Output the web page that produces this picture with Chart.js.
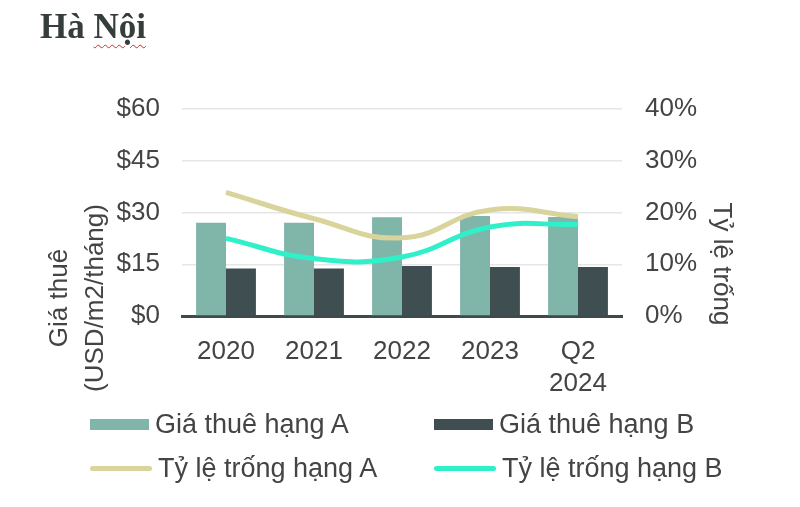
<!DOCTYPE html>
<html lang="vi">
<head>
<meta charset="utf-8">
<title>Hà Nội</title>
<script src="https://cdn.jsdelivr.net/npm/chart.js@4.4.1/dist/chart.umd.min.js"></script>
<style>
  html, body { margin: 0; padding: 0; background: #fff; }
  #wrap { position: relative; width: 800px; height: 507px; overflow: hidden; }
  #chart { position: absolute; left: 0; top: 0; }
  #title {
    position: absolute; left: 40px; top: 7px;
    font: bold 35px "Liberation Serif", "DejaVu Serif", serif;
    color: #363d3d; margin: 0;
  }
  #title span { text-decoration: underline wavy #c0392b; text-decoration-thickness: 1px; text-underline-offset: 6px; }
  #legend { position: absolute; left: 0; top: 0; width: 800px; height: 507px; pointer-events: none; }
  .item { position: absolute; display: flex; align-items: center; height: 30px;
          font: 27px "Liberation Sans", Arial, sans-serif; color: #444; white-space: nowrap; }
  .swatch { display: inline-block; margin-right: 6px; }
</style>
</head>
<body>
<div id="wrap">
  <canvas id="chart" width="800" height="507"></canvas>
  <h1 id="title">Hà <span>Nội</span></h1>
  <div id="legend"></div>
</div>
<script>
// dữ liệu
const labels = ['2020', '2021', '2022', '2023', ['Q2', '2024']];
const rentA = [27.0, 27.0, 28.6, 29.0, 28.7];      // USD/m2/tháng
const rentB = [13.8, 13.8, 14.5, 14.2, 14.2];
const vacancyA = [23.9, 18.8, 15.1, 20.5, 19.2];   // %
const vacancyB = [15.0, 11.1, 11.4, 17.2, 17.7];
const rentTicks = [0, 15, 30, 45, 60];
const vacancyTicks = [0, 10, 20, 30, 40];

const TEXT = '#444';
const FONT = 'Liberation Sans, Arial, sans-serif';

// tiêu đề trục vẽ tay (vị trí lệch khỏi tâm như ảnh gốc)
const axisTitles = {
  id: 'axisTitles',
  afterDraw(chart) {
    const ctx = chart.ctx;
    ctx.save();
    ctx.fillStyle = TEXT;
    ctx.font = '26px ' + FONT;
    ctx.textAlign = 'center';
    ctx.textBaseline = 'middle';
    [['Giá thuê', 60], ['(USD/m2/tháng)', 96]].forEach(([t, x]) => {
      ctx.save();
      ctx.translate(x, 298);
      ctx.rotate(-Math.PI / 2);
      ctx.fillText(t, 0, 0);
      ctx.restore();
    });
    ctx.translate(721, 264);
    ctx.rotate(Math.PI / 2);
    ctx.fillText('Tỷ lệ trống', 0, 0);
    ctx.restore();
  }
};

// chú thích HTML 2 cột
const htmlLegend = {
  id: 'htmlLegend',
  afterUpdate(chart) {
    const box = document.getElementById('legend');
    box.textContent = '';
    const slots = [[90, 409], [434, 409], [90, 453], [434, 453]];
    chart.data.datasets.forEach((ds, i) => {
      const item = document.createElement('div');
      item.className = 'item';
      item.style.left = slots[i][0] + 'px';
      item.style.top = slots[i][1] + 'px';
      const sw = document.createElement('span');
      sw.className = 'swatch';
      if (ds.type === 'line') {
        sw.style.width = '62px';
        sw.style.height = '5px';
        sw.style.borderRadius = '3px';
        sw.style.background = ds.borderColor;
      } else {
        sw.style.width = '59px';
        sw.style.height = '11px';
        sw.style.background = ds.backgroundColor;
      }
      const txt = document.createElement('span');
      txt.textContent = ds.label;
      item.appendChild(sw);
      item.appendChild(txt);
      box.appendChild(item);
    });
  }
};

new Chart(document.getElementById('chart'), {
  data: {
    labels,
    datasets: [
      { type: 'bar', label: 'Giá thuê hạng A', data: rentA, backgroundColor: '#80b5a9', yAxisID: 'y', order: 2 },
      { type: 'bar', label: 'Giá thuê hạng B', data: rentB, backgroundColor: '#3f4f51', yAxisID: 'y', order: 2 },
      { type: 'line', label: 'Tỷ lệ trống hạng A', data: vacancyA, borderColor: '#d8d49b', borderWidth: 5,
        pointRadius: 0, tension: 0.45, yAxisID: 'y1', order: 1 },
      { type: 'line', label: 'Tỷ lệ trống hạng B', data: vacancyB, borderColor: '#2ff0c8', borderWidth: 5,
        pointRadius: 0, tension: 0.45, yAxisID: 'y1', order: 0 }
    ]
  },
  options: {
    responsive: false,
    animation: false,
    datasets: { bar: { barPercentage: 1, categoryPercentage: 0.68 } },
    layout: { padding: { top: 109, left: 0, right: 0, bottom: 0 } },
    plugins: { legend: { display: false }, tooltip: { enabled: false } },
    scales: {
      x: {
        grid: { display: false },
        border: { color: '#3e4b4c', width: 3 },
        ticks: { color: TEXT, font: { family: FONT, size: 26, lineHeight: 1.23 }, padding: 12, maxRotation: 0 },
        afterFit(s) { s.height = 191; }
      },
      y: {
        position: 'left', min: 0, max: 60,
        afterBuildTicks(s) { s.ticks = rentTicks.map(v => ({ value: v })); },
        grid: { color: c => c.tick.value === 0 ? 'rgba(0,0,0,0)' : '#e6e6e6', lineWidth: 1.5, drawTicks: false },
        border: { display: false },
        ticks: { color: TEXT, font: { family: FONT, size: 26 }, padding: 22, callback: v => '$' + v },
        afterFit(s) { s.width = 182; }
      },
      y1: {
        position: 'right', min: 0, max: 40,
        afterBuildTicks(s) { s.ticks = vacancyTicks.map(v => ({ value: v })); },
        grid: { display: false, drawTicks: false },
        border: { display: false },
        ticks: { color: TEXT, font: { family: FONT, size: 26 }, padding: 23, callback: v => v + '%' },
        afterFit(s) { s.width = 178; }
      }
    }
  },
  plugins: [axisTitles, htmlLegend]
});
</script>
</body>
</html>
